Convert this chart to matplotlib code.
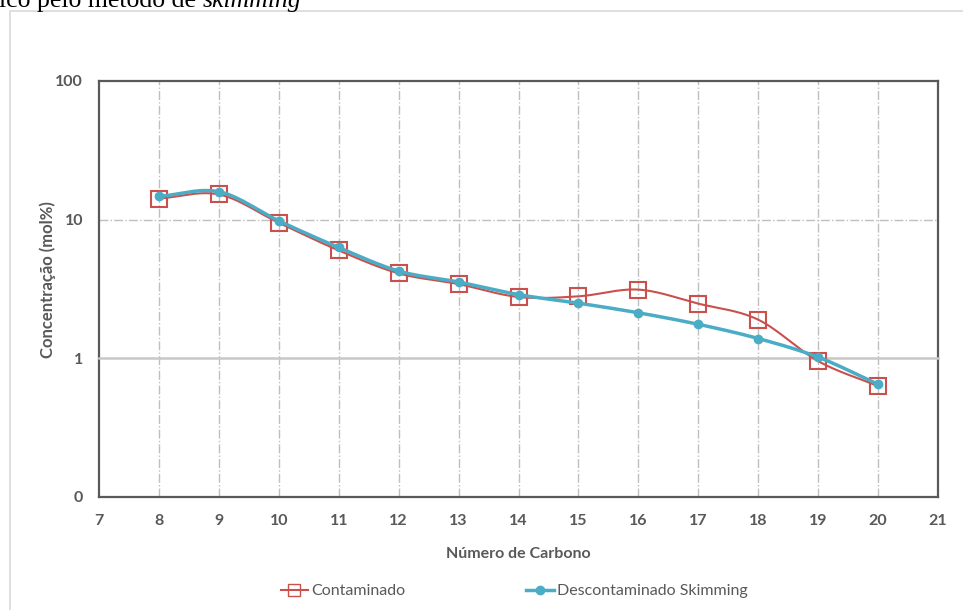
import numpy as np
import matplotlib.pyplot as plt
from matplotlib.patches import Rectangle
from matplotlib.ticker import FixedLocator, FixedFormatter, NullLocator

# dados
carbonos = [8, 9, 10, 11, 12, 13, 14, 15, 16, 17, 18, 19, 20]
contaminado = [14.2, 15.2, 9.5, 6.0, 4.1, 3.43, 2.77, 2.80, 3.13, 2.48, 1.90, 0.955, 0.63]
skimming = [14.7, 15.9, 9.8, 6.3, 4.26, 3.55, 2.88, 2.50, 2.13, 1.76, 1.39, 1.02, 0.65]

y_ticks = [0.1, 1, 10, 100]
y_labels = ['0', '1', '10', '100']
x_ticks = list(range(7, 22))

RED = '#C9504D'
BLUE = '#4BACC6'
GRAY = '#595959'

plt.rcParams['font.family'] = ['Lato', 'DejaVu Sans']


def smooth(xs, ys, n=30):
    # curva suavizada (Catmull-Rom) no espaço log, como no Excel
    x = np.asarray(xs, float)
    y = np.log10(np.asarray(ys, float))
    px = np.concatenate([[2 * x[0] - x[1]], x, [2 * x[-1] - x[-2]]])
    py = np.concatenate([[2 * y[0] - y[1]], y, [2 * y[-1] - y[-2]]])
    ox, oy = [], []
    t = np.linspace(0, 1, n)
    for i in range(1, len(px) - 2):
        for arr, out in ((px, ox), (py, oy)):
            p0, p1, p2, p3 = arr[i - 1], arr[i], arr[i + 1], arr[i + 2]
            out.extend(0.5 * ((2 * p1) + (-p0 + p2) * t
                              + (2 * p0 - 5 * p1 + 4 * p2 - p3) * t ** 2
                              + (-p0 + 3 * p1 - 3 * p2 + p3) * t ** 3))
    return np.array(ox), 10 ** np.array(oy)


fig = plt.figure(figsize=(9.63, 6.10), dpi=100)
fig.patches.append(Rectangle((10 / 963, -0.1), 1.1, 1 - 11 / 610 + 0.1,
                             transform=fig.transFigure, fill=False,
                             edgecolor='#D9D9D9', linewidth=1.2))

# título cortado no topo (recorte da página original)
t1 = fig.text(-1 / 963, 1 - 7 / 610, 'ico pelo método de ', family='Liberation Serif',
              fontsize=18.5, va='baseline', ha='left')
fig.canvas.draw()
bb = t1.get_window_extent()
fig.text(bb.x1 / 963, 1 - 7 / 610, 'skimming', family='Liberation Serif',
         fontsize=18.5, style='italic', va='baseline', ha='left')

ax = fig.add_axes([99 / 963, 1 - 497 / 610, (938 - 99) / 963, (497 - 81) / 610])
ax.set_yscale('log')
ax.set_xlim(7, 21)
ax.set_ylim(0.1, 100)

for c in carbonos:
    ax.axvline(c, color='#BFBFBF', linestyle='-.', linewidth=1.0, zorder=1)
ax.axhline(10, color='#BFBFBF', linestyle='-.', linewidth=1.0, zorder=1)
ax.axhline(1, color='#C8C8C8', linestyle='-', linewidth=1.8, zorder=4, clip_on=False)

sx, sy = smooth(carbonos, contaminado)
ax.plot(sx, sy, color=RED, linewidth=1.5, zorder=5)
ax.plot(carbonos, contaminado, linestyle='none', marker='s', markersize=11.5,
        markerfacecolor='none', markeredgecolor=RED, markeredgewidth=1.5, zorder=6)
bx, by = smooth(carbonos, skimming)
ax.plot(bx, by, color=BLUE, linewidth=2.5, zorder=7)
ax.plot(carbonos, skimming, linestyle='none', marker='o', markersize=6,
        color=BLUE, zorder=8)

ax.yaxis.set_major_locator(FixedLocator(y_ticks))
ax.yaxis.set_major_formatter(FixedFormatter(y_labels))
ax.yaxis.set_minor_locator(NullLocator())
ax.set_xticks(x_ticks)
ax.tick_params(length=0, labelsize=11.5, colors=GRAY)
ax.tick_params(axis='x', pad=12)
ax.tick_params(axis='y', pad=11.5)
for lab in ax.get_xticklabels() + ax.get_yticklabels():
    lab.set_fontweight('bold')

for s in ax.spines.values():
    s.set_color(GRAY)
    s.set_linewidth(1.6)

ax.set_xlabel('Número de Carbono', fontsize=11.5, fontweight='bold', color=GRAY, labelpad=14)
ax.set_ylabel('Concentração (mol%)', fontsize=12, fontweight='bold', color=GRAY)
ax.yaxis.set_label_coords(-0.051, 0.522)

h1, = ax.plot([], [], color=RED, linewidth=1.5, marker='s', markersize=9,
              markerfacecolor='none', markeredgecolor=RED)
h2, = ax.plot([], [], color=BLUE, linewidth=2.5, marker='o', markersize=6)
fig.legend([h1, h2], ['Contaminado', 'Descontaminado Skimming'], loc='center',
           bbox_to_anchor=(514 / 963, 1 - 591 / 610), ncol=2, frameon=False,
           fontsize=11.5, labelcolor=GRAY, columnspacing=7.6, handlelength=1.7,
           handletextpad=0.2)

fig.savefig('out.png', dpi=100)
